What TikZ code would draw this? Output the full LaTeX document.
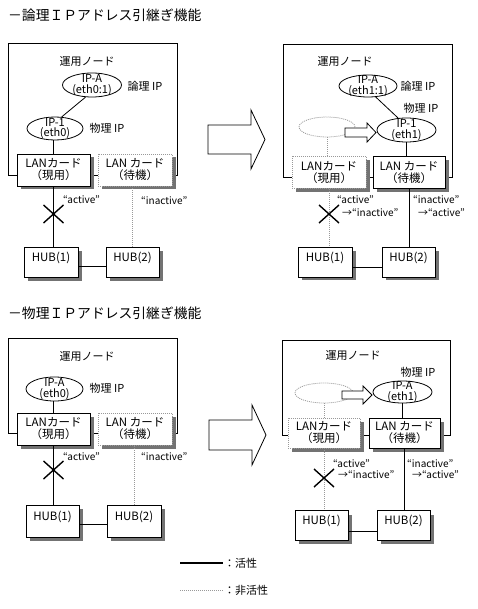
\documentclass[tikz,border=0pt]{standalone}
\usepackage{fontspec}
\setmainfont{Noto Sans CJK JP}
\usetikzlibrary{shapes.geometric,calc}
\definecolor{offgray}{gray}{0.6}
\definecolor{shadowgray}{gray}{0.45}
% shadowed box: style, name, x, y, width, height, text
\newcommand\shbox[7]{%
  \path[fill=shadowgray,draw=none] (#3-#5/2+3.5,#4-#6/2+3.5) rectangle (#3+#5/2+3.5,#4+#6/2+3.5);
  \node[#1,minimum width=#5pt,minimum height=#6pt] (#2) at (#3,#4) {#7};}
\begin{document}
\begin{tikzpicture}[x=1pt,y=-1pt,
  frame/.style={draw,line width=0.8pt,inner sep=0pt},
  card/.style={draw,line width=0.8pt,fill=white,inner sep=0pt,align=center,font=\fontsize{11.5}{12}\selectfont},
  cardoff/.style={card,draw=offgray,dash pattern=on 1pt off 1pt},
  hub/.style={draw,line width=0.8pt,fill=white,inner sep=0pt,text height=14pt,text depth=16pt,font=\fontsize{11.5}{12}\selectfont},
  ip/.style={ellipse,draw,line width=0.8pt,fill=white,inner sep=-12pt,align=center,font=\fontsize{11}{10.5}\selectfont},
  ipoff/.style={ellipse,draw=offgray,dash pattern=on 1pt off 1pt,line width=0.8pt,fill=white,inner sep=0pt},
  lbl/.style={inner sep=0pt,font=\fontsize{11}{12}\selectfont},
  ttl/.style={inner sep=0pt,anchor=west,font=\fontsize{13.8}{15}\selectfont},
  small/.style={inner sep=0pt,anchor=west,font=\fontsize{10}{11}\selectfont},
  on/.style={draw,line width=0.8pt},
  off/.style={draw=offgray,dash pattern=on 1pt off 1pt,line width=0.8pt},
  cross/.style={draw,line width=1.4pt},
  blockarrow/.style={draw,fill=white,line width=0.8pt,line join=miter}
]
\useasboundingbox (0,0) rectangle (477,609);

% ---------------- panel 1 ----------------
\node[ttl] (t1) at (8,15) {－論理ＩＰアドレス引継ぎ機能};
\node[frame,minimum width=169pt,minimum height=132pt] (n1) at (92.5,109) {};
\node[lbl] (u1) at (87,61) {運用ノード};
\node[ip,minimum width=59pt,minimum height=24pt] (a1) at (92,85) {IP-A\\(eth0:1)};
\node[lbl] (la1) at (145,86) {論理 IP};
\node[ip,minimum width=56pt,minimum height=23pt] (b1) at (55,128.5) {IP-1\\(eth0)};
\node[lbl] (lb1) at (107,128) {物理 IP};
\shbox{card}{c1a}{53.5}{170}{73}{32}{LANカード\\（現用）}
\shbox{cardoff}{c1b}{135}{170}{74}{32}{LAN カード\\（待機）}
\shbox{hub}{h1a}{51}{262}{54}{30}{HUB(1)}
\shbox{hub}{h1b}{132.5}{262}{53}{30}{HUB(2)}
\draw[on] (a1.-118) -- (b1.60);
\draw[on] (c1a.north) -- (c1a.north |- b1.south);
\draw[on] (c1a.south) -- (c1a.south |- h1a.north);
\draw[off] (h1b.north) -- (h1b.north |- c1b.south);
\draw[on] ($(h1a.east)+(0,4)$) -- ($(h1b.west)+(0,4)$);
\coordinate (x1) at (53.5,214);
\draw[cross] ($(x1)+(-10,-9)$) -- ($(x1)+(10,9)$);
\draw[cross] ($(x1)+(-10,9)$) -- ($(x1)+(10,-9)$);
\node[small] (s1a) at (63,200) {“active”};
\node[small] (s1b) at (141,201) {“inactive”};

% big arrow 1
\draw[blockarrow] (208,125) -- (251,125) -- (251,110) -- (265,139.5) -- (251,169) -- (251,154) -- (208,154) -- cycle;

% ---------------- panel 2 ----------------
\node[frame,minimum width=169pt,minimum height=133pt] (n2) at (367.5,110.5) {};
\node[lbl] (u2) at (345,61) {運用ノード};
\node[ip,minimum width=58pt,minimum height=22pt] (a2) at (368,86) {IP-A\\(eth1:1)};
\node[lbl] (la2) at (418,86) {論理 IP};
\node[lbl] (lb2) at (421,108) {物理 IP};
\node[ip,minimum width=59pt,minimum height=24pt] (b2) at (406.5,130) {IP-1\\(eth1)};
\node[ipoff,minimum width=56pt,minimum height=20pt] (o2) at (327,127) {};
\draw[blockarrow] (345,128) -- (367,128) -- (367,123) -- (376,132.5) -- (367,142) -- (367,137) -- (345,137) -- cycle;
\shbox{cardoff}{c2a}{329}{172.5}{74}{32}{LANカード\\（現用）}
\shbox{card}{c2b}{409}{172.5}{72}{32}{LAN カード\\（待機）}
\shbox{hub}{h2a}{325}{262}{54}{29}{HUB(1)}
\shbox{hub}{h2b}{408.5}{262}{53}{29}{HUB(2)}
\draw[on] (a2.-55) -- (b2.125);
\draw[off] (o2.south) -- (o2.south |- c2a.north);
\draw[on] (b2.south) -- (b2.south |- c2b.north);
\draw[off] (c2a.south) -- (c2a.south |- h2a.north);
\draw[on] (c2b.south) -- (c2b.south |- h2b.north);
\draw[on] ($(h2a.east)+(0,5)$) -- ($(h2b.west)+(0,5)$);
\coordinate (x2) at (329,214);
\draw[cross] ($(x2)+(-10,-9)$) -- ($(x2)+(10,9)$);
\draw[cross] ($(x2)+(-10,9)$) -- ($(x2)+(10,-9)$);
\node[small] (s2a) at (337,200) {“active”};
\node[small] (s2b) at (342,213) {→“inactive”};
\node[small] (s2c) at (413,200) {“inactive”};
\node[small] (s2d) at (418,213) {→“active”};

% ---------------- panel 3 ----------------
\node[ttl] (t2) at (8,313) {－物理ＩＰアドレス引継ぎ機能};
\node[frame,minimum width=169pt,minimum height=95pt] (n3) at (92.5,385.5) {};
\node[lbl] (u3) at (87,356) {運用ノード};
\node[ip,minimum width=57pt,minimum height=24pt] (a3) at (54.5,389) {IP-A\\(eth0)};
\node[lbl] (lb3) at (107,388) {物理 IP};
\shbox{card}{c3a}{53.5}{429}{73}{32}{LANカード\\（現用）}
\shbox{cardoff}{c3b}{135}{429}{74}{32}{LAN カード\\（待機）}
\shbox{hub}{h3a}{52.5}{521}{53}{32}{HUB(1)}
\shbox{hub}{h3b}{134}{521}{54}{32}{HUB(2)}
\draw[on] (c3a.north) -- (c3a.north |- a3.south);
\draw[on] (c3a.south) -- (c3a.south |- h3a.north);
\draw[off] (h3b.north) -- (h3b.north |- c3b.south);
\draw[on] ($(h3a.east)+(0,3)$) -- ($(h3b.west)+(0,3)$);
\coordinate (x3) at (53.5,470);
\draw[cross] ($(x3)+(-10,-9)$) -- ($(x3)+(10,9)$);
\draw[cross] ($(x3)+(-10,9)$) -- ($(x3)+(10,-9)$);
\node[small] (s3a) at (63,457) {“active”};
\node[small] (s3b) at (141,457) {“inactive”};

% big arrow 2
\draw[blockarrow] (209,420) -- (252,420) -- (252,405) -- (266,435) -- (252,465) -- (252,450) -- (209,450) -- cycle;

% ---------------- panel 4 ----------------
\node[frame,minimum width=168pt,minimum height=95pt] (n4) at (366,387.5) {};
\node[lbl] (u4) at (353,355) {運用ノード};
\node[lbl] (lb4) at (418,372) {物理 IP};
\node[ip,minimum width=59pt,minimum height=22pt] (a4) at (402.5,392) {IP-A\\(eth1)};
\node[ipoff,minimum width=58pt,minimum height=20pt] (o4) at (324,393) {};
\draw[blockarrow] (342,391) -- (363,391) -- (363,386) -- (372,395) -- (363,404) -- (363,399) -- (342,399) -- cycle;
\shbox{cardoff}{c4a}{324}{433}{72}{30}{LANカード\\（現用）}
\shbox{card}{c4b}{404.5}{433}{71}{30}{LAN カード\\（待機）}
\shbox{hub}{h4a}{321.5}{525.5}{53}{29}{HUB(1)}
\shbox{hub}{h4b}{403.5}{525.5}{53}{29}{HUB(2)}
\draw[off] (o4.south) -- (o4.south |- c4a.north);
\draw[on] (a4.south) -- (a4.south |- c4b.north);
\draw[off] (c4a.south) -- (c4a.south |- h4a.north);
\draw[on] (c4b.south) -- (c4b.south |- h4b.north);
\draw[on] ($(h4a.east)+(0,5.5)$) -- ($(h4b.west)+(0,5.5)$);
\coordinate (x4) at (324,478);
\draw[cross] ($(x4)+(-10,-9)$) -- ($(x4)+(10,9)$);
\draw[cross] ($(x4)+(-10,9)$) -- ($(x4)+(10,-9)$);
\node[small] (s4a) at (333,464) {“active”};
\node[small] (s4b) at (338,475) {→“inactive”};
\node[small] (s4c) at (407,464) {“inactive”};
\node[small] (s4d) at (412,475) {→“active”};

% ---------------- legend ----------------
\coordinate (k1) at (180,563);
\coordinate (k2) at (223,563);
\draw[on,line width=1.4pt] (k1) -- (k2);
\node[lbl,anchor=west] (k5) at (224,563) {：活性};
\coordinate (k3) at (180,590);
\coordinate (k4) at (223,590);
\draw[off] (k3) -- (k4);
\node[lbl,anchor=west] (k6) at (224,590) {：非活性};
\end{tikzpicture}
\end{document}
